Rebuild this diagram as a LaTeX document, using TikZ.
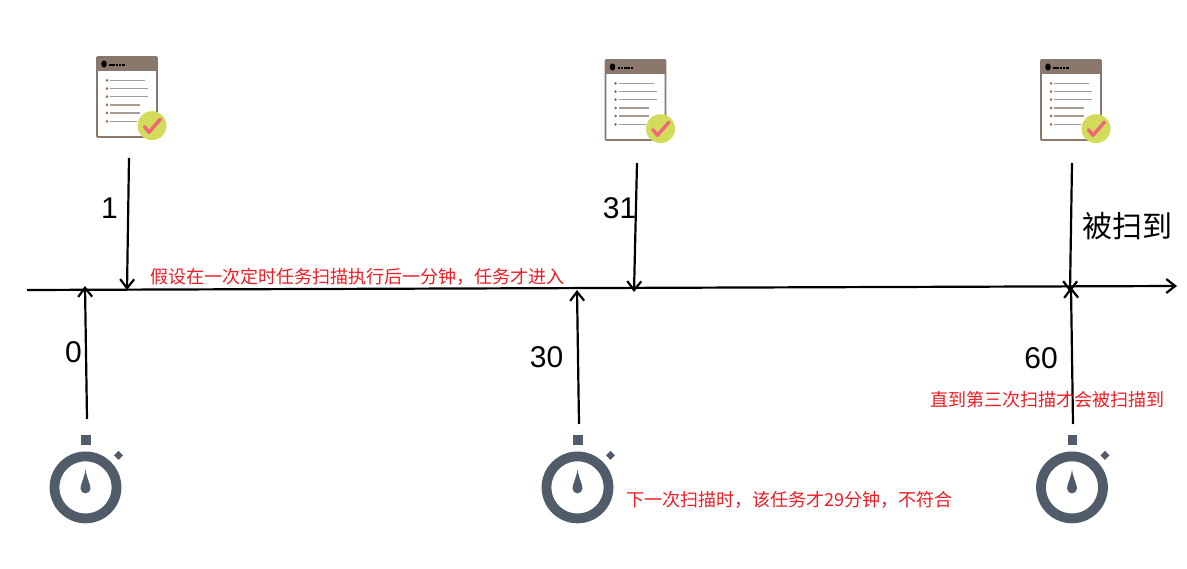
\documentclass[tikz,border=0pt]{standalone}
\usepackage{fontspec}
\setmainfont{Liberation Sans}
\newfontfamily\cjk{Noto Sans CJK SC}
\usetikzlibrary{arrows.meta}
\definecolor{docbrown}{HTML}{8A786D}
\definecolor{docline}{HTML}{A89C93}
\definecolor{badgegreen}{HTML}{D2DC5A}
\definecolor{checkpink}{HTML}{F0657A}
\definecolor{timergray}{HTML}{515C6B}
\definecolor{notered}{HTML}{EE1C25}
\tikzset{
	arrowline/.style={line width=2.2pt,-{Straight Barb[length=9pt,width=14pt,line width=2.2pt]}},
	numlabel/.style={font=\fontsize{30}{30}\selectfont,inner sep=0pt},
	notelabel/.style={text=notered,inner sep=0pt,anchor=west},
	pics/docicon/.style={code={
		\draw[docbrown,line width=1.6pt,fill=white,rounded corners=0.8pt] (0,0) rectangle (60,80);
		\fill[docbrown] (0,0) rectangle (60,14);
		\fill[black] (7,7) ellipse (2.8 and 3.6);
		\draw[black,line width=1.4pt,dash pattern=on 2.5pt off 0.8pt] (12,8) -- (28,8);
		\foreach \ly/\lx in {23.3/48,31.7/51,39.7/51,48/43,56/43,64.3/40} {
			\fill[docbrown] (10,\ly) circle (1.5);
			\draw[docline,line width=1.2pt] (13,\ly) -- (\lx,\ly);
		}
		\fill[badgegreen] (55,68.7) circle (14.5);
		\draw[checkpink,line width=3.4pt,line cap=round,line join=round] (47.5,69.7) -- (52,75.3) -- (63.5,62);
	}},
	pics/timericon/.style={code={
		\draw[timergray,line width=9.8pt] (0,0) circle (31);
		\fill[timergray] (-4.5,-52.5) rectangle (5,-42.5);
		\fill[timergray] (33,-36.5) -- (37.5,-32) -- (33,-27.5) -- (28.5,-32) -- cycle;
		\fill[timergray] (0,-18) .. controls (1,-10) and (5,-3) .. (5,1) arc (0:180:5) .. controls (-5,-3) and (-1,-10) .. (0,-18);
	}}
}
\begin{document}
\begin{tikzpicture}[x=1pt,y=-1pt]
	\useasboundingbox (0,0) rectangle (1187,569);
	% documents
	\pic at (97,57) {docicon};
	\pic at (605.5,60) {docicon};
	\pic at (1041,60) {docicon};
	% timers
	\pic at (85.5,487.4) {timericon};
	\pic at (577.5,487.4) {timericon};
	\pic at (1072,487.4) {timericon};
	% axis
	\coordinate (axisstart) at (27,290);
	\coordinate (axisend) at (1177,286);
	\draw[arrowline] (axisstart) -- (axisend);
	% arrows down
	\coordinate (docatop) at (129,158);
	\coordinate (docaend) at (127,290);
	\coordinate (docbtop) at (637,163);
	\coordinate (docbend) at (634,292);
	\coordinate (docctop) at (1072,163);
	\coordinate (doccend) at (1070,292);
	\draw[arrowline] (docatop) -- (docaend);
	\draw[arrowline] (docbtop) -- (docbend);
	\draw[arrowline] (docctop) -- (doccend);
	% arrows up
	\coordinate (timeralow) at (87,419);
	\coordinate (timeraend) at (85,286);
	\coordinate (timerblow) at (579,424);
	\coordinate (timerbend) at (577,290);
	\coordinate (timerclow) at (1073,424);
	\coordinate (timercend) at (1071,287);
	\draw[arrowline] (timeralow) -- (timeraend);
	\draw[arrowline] (timerblow) -- (timerbend);
	\draw[arrowline] (timerclow) -- (timercend);
	% labels
	\node[numlabel] (numone) at (109.5,208) {1};
	\node[numlabel] (numthirtyone) at (619.5,208) {31};
	\node[numlabel] (numzero) at (73.5,352) {0};
	\node[numlabel] (numthirty) at (546.5,357) {30};
	\node[numlabel] (numsixty) at (1041,358) {60};
	\node[numlabel] (scanned) at (1127,226) {\cjk 被扫到};
	\node[notelabel,font=\cjk\fontsize{18}{18}\selectfont] (notefirst) at (150,277) {假设在一次定时任务扫描执行后一分钟，任务才进入};
	\node[notelabel,font=\cjk\fontsize{18}{18}\selectfont] (notenext) at (626,500) {下一次扫描时，该任务才29分钟，不符合};
	\node[notelabel,font=\cjk\fontsize{18}{18}\selectfont] (notethird) at (930,400) {直到第三次扫描才会被扫描到};
\end{tikzpicture}
\end{document}
